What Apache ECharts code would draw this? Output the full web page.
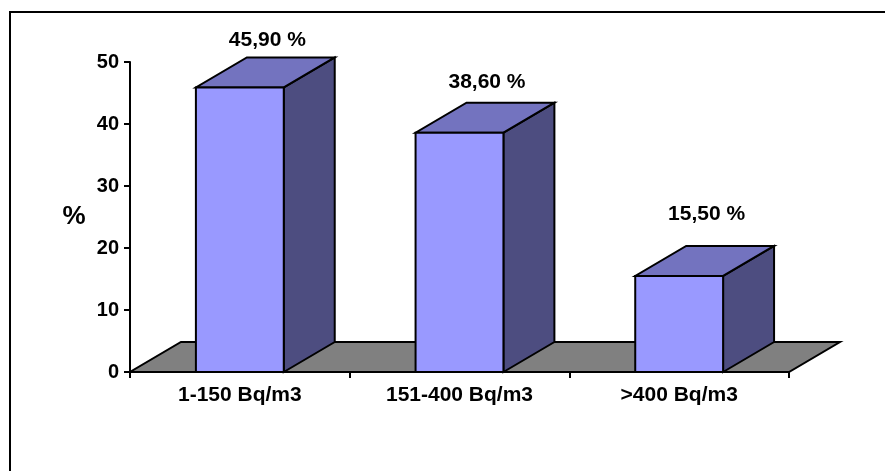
<!DOCTYPE html>
<html>
<head>
<meta charset="utf-8">
<script src="https://cdn.jsdelivr.net/npm/echarts@6/dist/echarts.min.js"></script>
<style>
html,body{margin:0;padding:0;background:#fff;}
#chart{width:885px;height:471px;}
</style>
</head>
<body>
<div id="chart"></div>
<script>
var categories = ['1-150 Bq/m3', '151-400 Bq/m3', '>400 Bq/m3'];
var values = [45.9, 38.6, 15.5];
var yTicks = [0, 10, 20, 30, 40, 50];
var axisName = '%';

var FONT = '"Liberation Sans", Arial, sans-serif';
var FRONT = '#9999FF', TOP = '#7373BF', SIDE = '#4D4D80', FLOOR = '#808080';
var DEPTH_RATIO = 0.232, DEPTH_Y = -30, BAR_RATIO = 0.4;

function fmt(v) { return v.toFixed(2).replace('.', ',') + ' %'; }

var chart = echarts.init(document.getElementById('chart'), null, {renderer: 'canvas'});

function renderFloor(params, api) {
  var cs = params.coordSys;
  var band = api.size([1, 0])[0];
  var dx = band * DEPTH_RATIO, dy = DEPTH_Y;
  var x = cs.x, y = cs.y + cs.height, w = cs.width;
  return {
    type: 'polygon',
    shape: {points: [[x, y], [x + w, y], [x + w + dx, y + dy], [x + dx, y + dy]]},
    style: {fill: FLOOR, stroke: '#000', lineWidth: 2}
  };
}

function renderBar(params, api) {
  var idx = api.value(0), v = api.value(1);
  var base = api.coord([idx, 0]);
  var top = api.coord([idx, v]);
  var band = api.size([1, 0])[0];
  var w = band * BAR_RATIO;
  var dx = band * DEPTH_RATIO, dy = DEPTH_Y;
  var x0 = base[0] - w / 2, x1 = base[0] + w / 2;
  var yb = base[1], yt = top[1];
  var line = {stroke: '#000', lineWidth: 2, lineJoin: 'miter'};
  return {
    type: 'group',
    children: [
      {type: 'polygon', shape: {points: [[x1, yb], [x1 + dx, yb + dy], [x1 + dx, yt + dy], [x1, yt]]},
        style: Object.assign({fill: SIDE}, line)},
      {type: 'polygon', shape: {points: [[x0, yt], [x1, yt], [x1 + dx, yt + dy], [x0 + dx, yt + dy]]},
        style: Object.assign({fill: TOP}, line)},
      {type: 'rect', shape: {x: x0, y: yt, width: w, height: yb - yt},
        style: Object.assign({fill: FRONT}, line)},
      {type: 'text', style: {
        text: fmt(v), x: base[0] + dx / 2 + 2, y: yt + dy - 39 + 0.078 * (yb - yt),
        align: 'center', verticalAlign: 'middle',
        fill: '#000', font: 'bold 21px ' + FONT
      }}
    ]
  };
}

var option = {
  animation: false,
  backgroundColor: '#fff',
  graphic: [{
    type: 'rect', shape: {x: 10, y: 12, width: 900, height: 500},
    style: {fill: 'none', stroke: '#000', lineWidth: 2}, z: 100
  }],
  grid: {left: 130, top: 62, width: 659, height: 310},
  xAxis: {
    type: 'category',
    data: categories,
    axisLine: {lineStyle: {color: '#000', width: 2}},
    axisTick: {show: true, length: 6, lineStyle: {color: '#000', width: 2}},
    axisLabel: {color: '#000', fontWeight: 'bold', fontSize: 21, fontFamily: FONT, margin: 13},
    splitLine: {show: false}
  },
  yAxis: {
    type: 'value',
    min: yTicks[0], max: yTicks[yTicks.length - 1], interval: yTicks[1] - yTicks[0],
    name: axisName, nameLocation: 'middle', nameGap: 56, nameRotate: 0,
    nameTextStyle: {color: '#000', fontWeight: 'bold', fontSize: 26, fontFamily: FONT, align: 'center', verticalAlign: 'middle'},
    axisLine: {show: true, lineStyle: {color: '#000', width: 2}},
    axisTick: {show: true, length: 6, lineStyle: {color: '#000', width: 2}},
    axisLabel: {color: '#000', fontWeight: 'bold', fontSize: 20, fontFamily: FONT, margin: 11},
    splitLine: {show: false}
  },
  series: [
    {type: 'custom', renderItem: renderFloor, data: [[0, 0]], z: 1, silent: true},
    {type: 'custom', renderItem: renderBar, data: values.map(function (v, i) { return [i, v]; }), z: 3}
  ]
};
chart.setOption(option);
</script>
</body>
</html>
